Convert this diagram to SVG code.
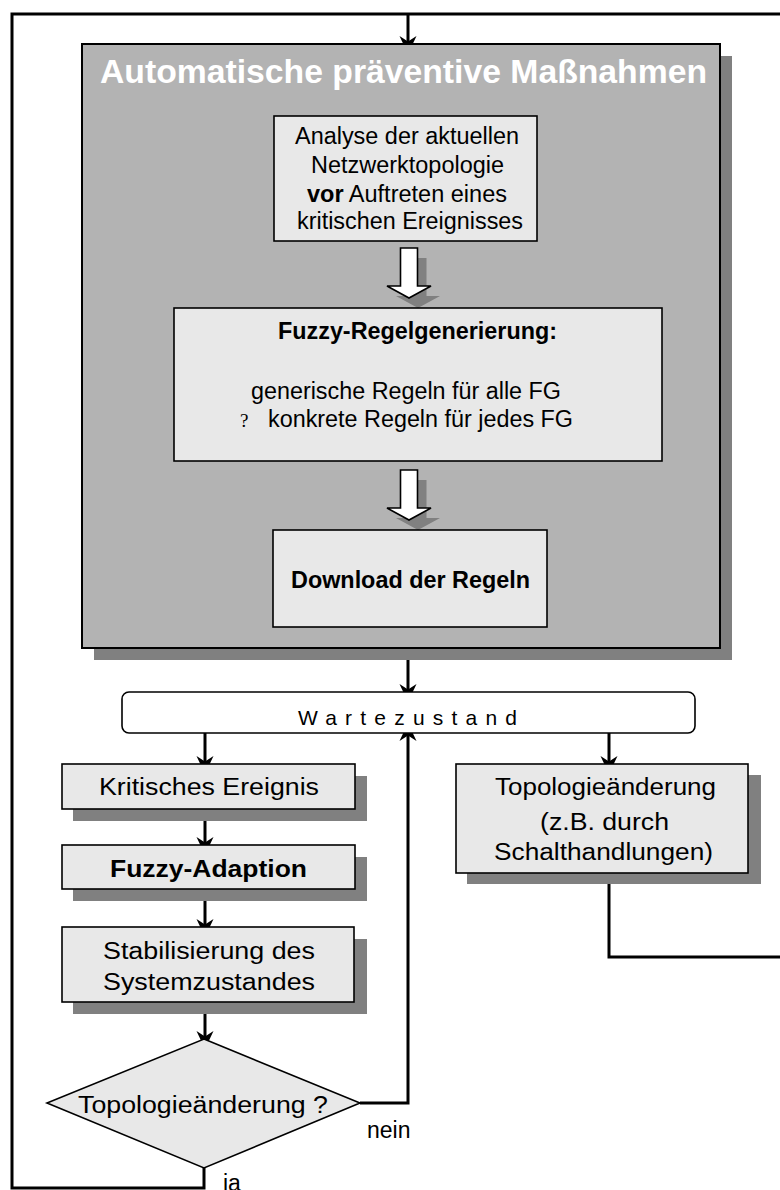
<svg xmlns="http://www.w3.org/2000/svg" width="780" height="1190" viewBox="0 0 780 1190">
  <style>
    .box { fill: #e8e8e8; stroke: #000; stroke-width: 1.6; }
    .shadow { fill: #808080; }
    .line { fill: none; stroke: #000; stroke-width: 3; stroke-linejoin: miter; }
    .t { font-family: "Liberation Sans", Arial, sans-serif; font-size: 23px; fill: #000; }
    .b { font-weight: bold; }
    .title { font-family: "Liberation Sans", Arial, sans-serif; font-size: 33.5px; font-weight: bold; fill: #fff; }
    .wait { font-family: "Liberation Sans", Arial, sans-serif; font-size: 21px; fill: #000; }
    .sym { font-family: "Liberation Serif", serif; font-size: 19px; fill: #000; }
  </style>
  <defs>
    <!-- filled arrowhead; ref point sits 10px behind the tip so the line ends inside the head -->
    <marker id="ah" viewBox="-19 -10 20 20" refX="-10" refY="0" markerWidth="20" markerHeight="20" markerUnits="userSpaceOnUse" orient="auto">
      <path d="M0,0 L-18,-8.5 L-12.5,0 L-18,8.5 Z" fill="#000"/>
    </marker>
    <!-- hollow block arrow pointing down, origin at top centre of the stem -->
    <path id="blockArrow" d="M-8.5,0 H8.5 V38 H22 L0,50 L-22,38 H-8.5 Z"/>
  </defs>

  <!-- connectors -->
  <g id="connectors">
    <path class="line" d="M780,14 H12 V1188 H204 V1168"/>
    <path class="line" d="M408,14 V44" marker-end="url(#ah)"/>
    <path class="line" d="M408,660 V692" marker-end="url(#ah)"/>
    <path class="line" d="M205,733 V764" marker-end="url(#ah)"/>
    <path class="line" d="M205,809 V845" marker-end="url(#ah)"/>
    <path class="line" d="M205,889 V927" marker-end="url(#ah)"/>
    <path class="line" d="M205,1002 V1039" marker-end="url(#ah)"/>
    <path class="line" d="M360,1103 H408 V733" marker-end="url(#ah)"/>
    <path class="line" d="M609,733 V764" marker-end="url(#ah)"/>
    <path class="line" d="M609,873 V957 H780"/>
    <text class="t" x="367" y="1138">nein</text>
    <text class="t" x="223" y="1191">ja</text>
  </g>

  <!-- container: automatic preventive measures -->
  <g id="praeventiv">
    <rect class="shadow" x="94" y="56" width="638" height="604"/>
    <rect x="82" y="44" width="638" height="604" fill="#b3b3b3" stroke="#000" stroke-width="2"/>
    <text class="title" x="100" y="83" textLength="607" lengthAdjust="spacingAndGlyphs">Automatische präventive Maßnahmen</text>
  </g>

  <g id="analyse">
    <rect class="box" x="274" y="116" width="263" height="125"/>
    <text class="t" x="295" y="144" textLength="224" lengthAdjust="spacingAndGlyphs">Analyse der aktuellen</text>
    <text class="t" x="311" y="173" textLength="193" lengthAdjust="spacingAndGlyphs">Netzwerktopologie</text>
    <text class="t" x="307" y="202" textLength="200" lengthAdjust="spacingAndGlyphs"><tspan class="b">vor</tspan> Auftreten eines</text>
    <text class="t" x="297" y="229" textLength="226" lengthAdjust="spacingAndGlyphs">kritischen Ereignisses</text>
  </g>

  <g id="pfeil1">
    <use href="#blockArrow" x="418" y="258" class="shadow"/>
    <use href="#blockArrow" x="409" y="248" fill="#fff" stroke="#000" stroke-width="1.6"/>
  </g>

  <g id="regelgenerierung">
    <rect class="box" x="174" y="308" width="488" height="153"/>
    <text class="t b" x="278" y="339" textLength="279" lengthAdjust="spacingAndGlyphs">Fuzzy-Regelgenerierung:</text>
    <text class="t" x="251" y="399" textLength="310" lengthAdjust="spacingAndGlyphs">generische Regeln für alle FG</text>
    <text class="sym" x="240" y="427">?</text>
    <text class="t" x="268" y="427" textLength="305" lengthAdjust="spacingAndGlyphs">konkrete Regeln für jedes FG</text>
  </g>

  <g id="pfeil2">
    <use href="#blockArrow" x="418" y="480" class="shadow"/>
    <use href="#blockArrow" x="409" y="470" fill="#fff" stroke="#000" stroke-width="1.6"/>
  </g>

  <g id="download">
    <rect class="box" x="273" y="530" width="274" height="97"/>
    <text class="t b" x="291" y="588" textLength="239" lengthAdjust="spacingAndGlyphs">Download der Regeln</text>
  </g>

  <g id="wartezustand">
    <rect x="122" y="692" width="573" height="41" rx="7" fill="#fff" stroke="#000" stroke-width="1.6"/>
    <text class="wait" x="298" y="725" textLength="219" lengthAdjust="spacing">Wartezustand</text>
  </g>

  <g id="kritisch">
    <rect class="shadow" x="73" y="776" width="294" height="45"/>
    <rect class="box" x="62" y="764" width="293" height="45"/>
    <text class="t" x="99" y="795" textLength="220" lengthAdjust="spacingAndGlyphs">Kritisches Ereignis</text>
  </g>

  <g id="adaption">
    <rect class="shadow" x="73" y="857" width="294" height="44"/>
    <rect class="box" x="62" y="845" width="293" height="44"/>
    <text class="t b" x="110" y="877" textLength="197" lengthAdjust="spacingAndGlyphs">Fuzzy-Adaption</text>
  </g>

  <g id="stabilisierung">
    <rect class="shadow" x="73" y="939" width="294" height="75"/>
    <rect class="box" x="62" y="927" width="292" height="75"/>
    <text class="t" x="103" y="959" textLength="212" lengthAdjust="spacingAndGlyphs">Stabilisierung des</text>
    <text class="t" x="103" y="990" textLength="212" lengthAdjust="spacingAndGlyphs">Systemzustandes</text>
  </g>

  <g id="entscheidung">
    <polygon points="204,1039 360,1103 204,1168 47,1103" fill="#e8e8e8" stroke="#000" stroke-width="1.6"/>
    <text class="t" x="78" y="1113" textLength="250" lengthAdjust="spacingAndGlyphs">Topologieänderung ?</text>
  </g>

  <g id="topologie">
    <rect class="shadow" x="467" y="775" width="294" height="109"/>
    <rect class="box" x="456" y="764" width="292" height="109"/>
    <text class="t" x="495" y="795" textLength="221" lengthAdjust="spacingAndGlyphs">Topologieänderung</text>
    <text class="t" x="540" y="830" textLength="129" lengthAdjust="spacingAndGlyphs">(z.B. durch</text>
    <text class="t" x="494" y="860" textLength="219" lengthAdjust="spacingAndGlyphs">Schalthandlungen)</text>
  </g>
</svg>
